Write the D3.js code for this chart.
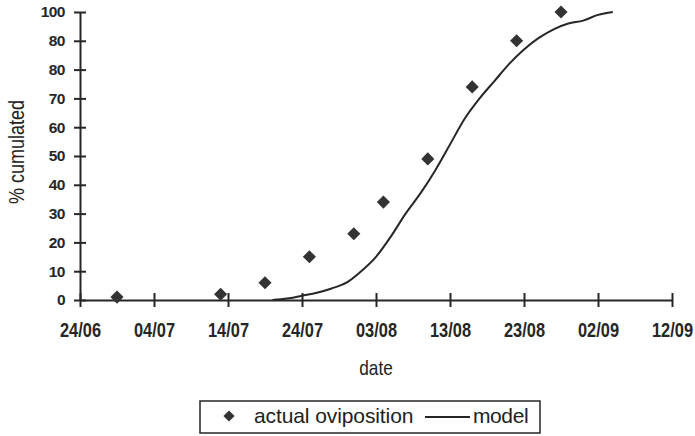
<!DOCTYPE html>
<html>
<head>
<meta charset="utf-8">
<script src="https://cdn.jsdelivr.net/npm/d3@7"></script>
<style>
  body { margin: 0; background: #fff; }
  svg text { font-family: "Liberation Sans", Arial, sans-serif; fill: #222; }
</style>
</head>
<body>
<svg id="chart" width="695" height="436"></svg>
<script>
// observed cumulative oviposition (%)
var obsDates = ["2000-06-29", "2000-07-13", "2000-07-19", "2000-07-25", "2000-07-31",
                "2000-08-04", "2000-08-10", "2000-08-16", "2000-08-22", "2000-08-28"];
var obsValues = [1, 2, 6, 15, 23, 34, 49, 74, 90, 100];

// model curve
var modelDates = ["2000-07-20", "2000-07-22", "2000-07-24", "2000-07-26", "2000-07-28",
                  "2000-07-30", "2000-08-01", "2000-08-03", "2000-08-05", "2000-08-07",
                  "2000-08-09", "2000-08-11", "2000-08-13", "2000-08-15", "2000-08-17",
                  "2000-08-19", "2000-08-21", "2000-08-23", "2000-08-25", "2000-08-27",
                  "2000-08-29", "2000-08-31", "2000-09-02", "2000-09-04"];
var modelValues = [0, 0.5, 1.5, 2.5, 4, 6, 10, 15, 22, 30, 37, 45, 54, 63, 70,
                   76, 82, 87, 91, 94, 96, 97, 99, 100];

var xTickDates = ["2000-06-24", "2000-07-04", "2000-07-14", "2000-07-24", "2000-08-03",
                  "2000-08-13", "2000-08-23", "2000-09-02", "2000-09-12"];
var yTicks = [0, 10, 20, 30, 40, 50, 60, 70, 80, 90, 100];
// the original figure prints "80" twice
var yTickLabels = ["0", "10", "20", "30", "40", "50", "60", "70", "80", "80", "100"];

var parse = d3.timeParse("%Y-%m-%d");
var fmt = d3.timeFormat("%d/%m");

var svg = d3.select("#chart");
var ink = "#262626";
var narrow = 0.82; // the figure uses a narrow face

var x = d3.scaleTime()
  .domain([parse(xTickDates[0]), parse(xTickDates[xTickDates.length - 1])])
  .range([80, 672]);
var y = d3.scaleLinear().domain([0, 100]).range([300, 12]);

// axes
var xAxis = d3.axisBottom(x)
  .tickValues(xTickDates.map(parse))
  .tickFormat(fmt)
  .tickSizeInner(0).tickSizeOuter(0).tickPadding(23);
var gx = svg.append("g").attr("transform", "translate(0," + y(0) + ")").call(xAxis);
gx.select(".domain").attr("stroke", ink).attr("stroke-width", 2);
gx.selectAll(".tick line").attr("y1", -7).attr("y2", 7)
  .attr("stroke", ink).attr("stroke-width", 2);
gx.selectAll(".tick text")
  .attr("font-size", 20).attr("font-weight", "bold")
  .attr("transform", "scale(" + narrow + ",1)")
  .style("fill", ink);

var yAxis = d3.axisLeft(y)
  .tickValues(yTicks)
  .tickFormat(function(d, i) { return yTickLabels[i]; })
  .tickSizeInner(0).tickSizeOuter(0).tickPadding(15);
var gy = svg.append("g").attr("transform", "translate(" + x.range()[0] + ",0)").call(yAxis);
gy.select(".domain").attr("stroke", ink).attr("stroke-width", 2);
gy.selectAll(".tick line").attr("x1", -6).attr("x2", 6)
  .attr("stroke", ink).attr("stroke-width", 2);
gy.selectAll(".tick text")
  .attr("font-size", 15.5).attr("font-weight", "bold")
  .attr("letter-spacing", -0.5).style("fill", ink);

// axis titles
svg.append("text")
  .attr("transform", "translate(24,152) rotate(-90) scale(" + narrow + ",1)")
  .attr("text-anchor", "middle")
  .attr("font-size", 22)
  .text("% cumulated");

svg.append("text")
  .attr("transform", "translate(" + x(parse("2000-08-03")) + ",375) scale(" + narrow + ",1)")
  .attr("text-anchor", "middle")
  .attr("font-size", 21)
  .text("date");

// model line
var model = modelDates.map(function(d, i) { return { date: parse(d), value: modelValues[i] }; });
var line = d3.line()
  .x(function(d) { return x(d.date); })
  .y(function(d) { return y(d.value); })
  .curve(d3.curveMonotoneX);
svg.append("path")
  .datum(model)
  .attr("d", line)
  .attr("fill", "none")
  .attr("stroke", ink)
  .attr("stroke-width", 2);

// observed diamonds
var diamond = d3.symbol().type(d3.symbolDiamond2).size(110);
var obs = obsDates.map(function(d, i) { return { date: parse(d), value: obsValues[i] }; });
svg.selectAll(".obs").data(obs).enter().append("path")
  .attr("class", "obs")
  .attr("d", diamond)
  .attr("transform", function(d) { return "translate(" + x(d.date) + "," + y(d.value) + ")"; })
  .attr("fill", "#333");

// legend
var lg = svg.append("g");
lg.append("rect")
  .attr("x", 200).attr("y", 401).attr("width", 340).attr("height", 32)
  .attr("fill", "none").attr("stroke", ink).attr("stroke-width", 1.5);
lg.append("path")
  .attr("d", d3.symbol().type(d3.symbolDiamond2).size(80))
  .attr("transform", "translate(229,416)")
  .attr("fill", "#333");
lg.append("text")
  .attr("x", 254).attr("y", 423)
  .attr("font-size", 21)
  .attr("letter-spacing", -0.1)
  .text("actual oviposition");
lg.append("line")
  .attr("x1", 425).attr("x2", 470).attr("y1", 417).attr("y2", 417)
  .attr("stroke", ink).attr("stroke-width", 2);
lg.append("text")
  .attr("x", 473).attr("y", 423)
  .attr("font-size", 21)
  .attr("letter-spacing", -0.4)
  .text("model");
</script>
</body>
</html>
